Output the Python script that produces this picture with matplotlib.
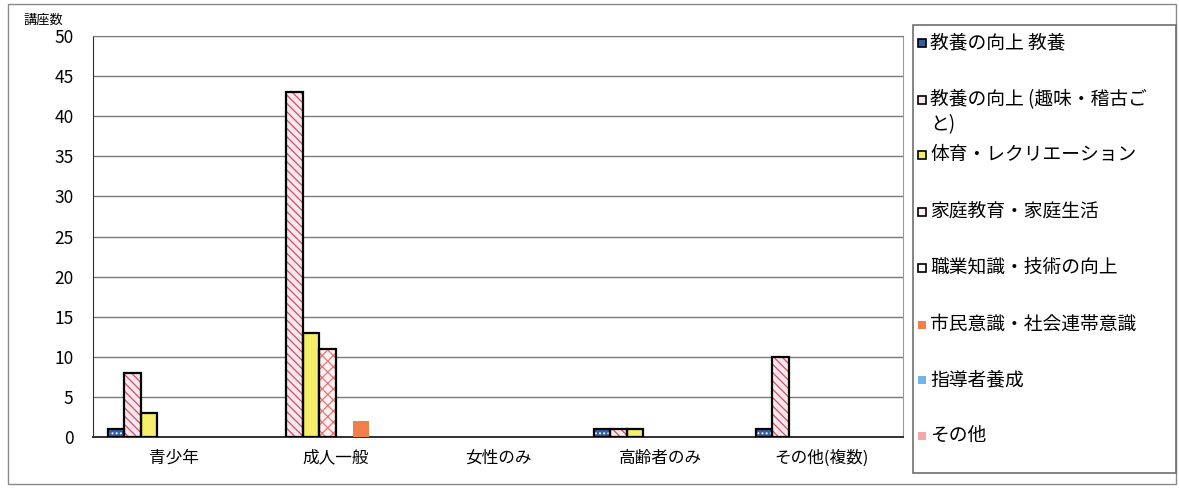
import matplotlib.pyplot as plt
from matplotlib.patches import Rectangle
import numpy as np

plt.rcParams['font.family'] = ['Noto Sans CJK JP', 'DejaVu Sans']
plt.rcParams['hatch.linewidth'] = 0.9

# データ
categories = ['青少年', '成人一般', '女性のみ', '高齢者のみ', 'その他(複数)']
series_names = ['教養の向上 教養', '教養の向上 (趣味・稽古ご\nと)', '体育・レクリエーション',
                '家庭教育・家庭生活', '職業知識・技術の向上', '市民意識・社会連帯意識',
                '指導者養成', 'その他']
kyouyou = [1, 0, 0, 1, 1]
shumi = [8, 43, 0, 1, 10]
taiiku = [3, 13, 0, 1, 0]
katei = [0, 11, 0, 0, 0]
shokugyou = [0, 0, 0, 0, 0]
shimin = [0, 2, 0, 0, 0]
shidousha = [0, 0, 0, 0, 0]
sonota = [0, 0, 0, 0, 0]
values = [kyouyou, shumi, taiiku, katei, shokugyou, shimin, shidousha, sonota]

# 見た目 (塗り, ハッチ色, ハッチ, 枠線)
styles = [
    ('#2f5fa8', 'white', '....', 'black'),
    ('#fbe6ec', '#c8506e', '\\\\\\\\', 'black'),
    ('#f4ee6a', None, None, 'black'),
    ('#fdf0f0', '#e07a7a', 'xxx', 'black'),
    ('#ffffff', '#404040', '++', 'black'),
    ('#f07f4a', None, None, None),
    ('#6fb6ea', None, None, None),
    ('#f4a8a8', None, None, None),
]

W, H = 1179, 488
fig = plt.figure(figsize=(W / 100, H / 100), dpi=100)
ax = fig.add_axes([93 / W, 1 - 437 / H, 810 / W, 401 / H])

x = np.arange(len(categories))
w = 0.1025
for i, vals in enumerate(values):
    fc, hc, hatch, ec = styles[i]
    pos = x + (i - 3.5) * w
    if hatch:
        ax.bar(pos, vals, w, color=fc, edgecolor=hc, hatch=hatch, linewidth=0, zorder=3)
    else:
        ax.bar(pos, vals, w, color=fc, linewidth=0, zorder=3)
    if ec:
        nz = [v if v > 0 else np.nan for v in vals]
        ax.bar(pos, nz, w, fill=False, edgecolor=ec, linewidth=1.6, zorder=4)

ax.set_xlim(-0.5, len(categories) - 0.5)
ax.set_ylim(0, 50)
ax.set_yticks(range(0, 51, 5))
ax.yaxis.grid(True, color='#7a7a7a', linewidth=1.0)
ax.set_axisbelow(True)
ax.set_xticks(x)
ax.set_xticklabels(categories, fontsize=12)
ax.tick_params(axis='x', length=0, pad=9)
ax.tick_params(axis='y', length=0, labelsize=12.5, pad=14)
ax.spines['left'].set_color('#303030')
ax.spines['bottom'].set_color('#303030')
ax.spines['bottom'].set_linewidth(1.4)
ax.spines['top'].set_color('#7a7a7a')
ax.spines['right'].set_color('#9a9a9a')

fig.text(23 / W, 1 - 20 / H, '講座数', fontsize=9.5, va='center', ha='left')

# 外枠
fig.add_artist(Rectangle((8 / W, 4 / H), 1168 / W, 480 / H, transform=fig.transFigure,
                         fill=False, edgecolor='#8a8a8a', linewidth=1.0))

# 凡例
fig.add_artist(Rectangle((913 / W, 1 - 473 / H), 263 / W, 448 / H, transform=fig.transFigure,
                         fill=False, edgecolor='#707070', linewidth=1.2))
entry_y = [43, 100, 155, 212, 268, 325, 380, 436]
for i, name in enumerate(series_names):
    fc, hc, hatch, ec = styles[i]
    yc = entry_y[i]
    fig.add_artist(Rectangle((918 / W, 1 - (yc + 4) / H), 8 / W, 8 / H, transform=fig.transFigure,
                             facecolor=fc, edgecolor=ec if ec else fc, linewidth=1.2 if ec else 0))
    fig.text(930 / W, 1 - (yc - 11) / H, name, fontsize=13.5, va='top', ha='left',
             linespacing=1.25)

fig.savefig('out.png', dpi=100)
